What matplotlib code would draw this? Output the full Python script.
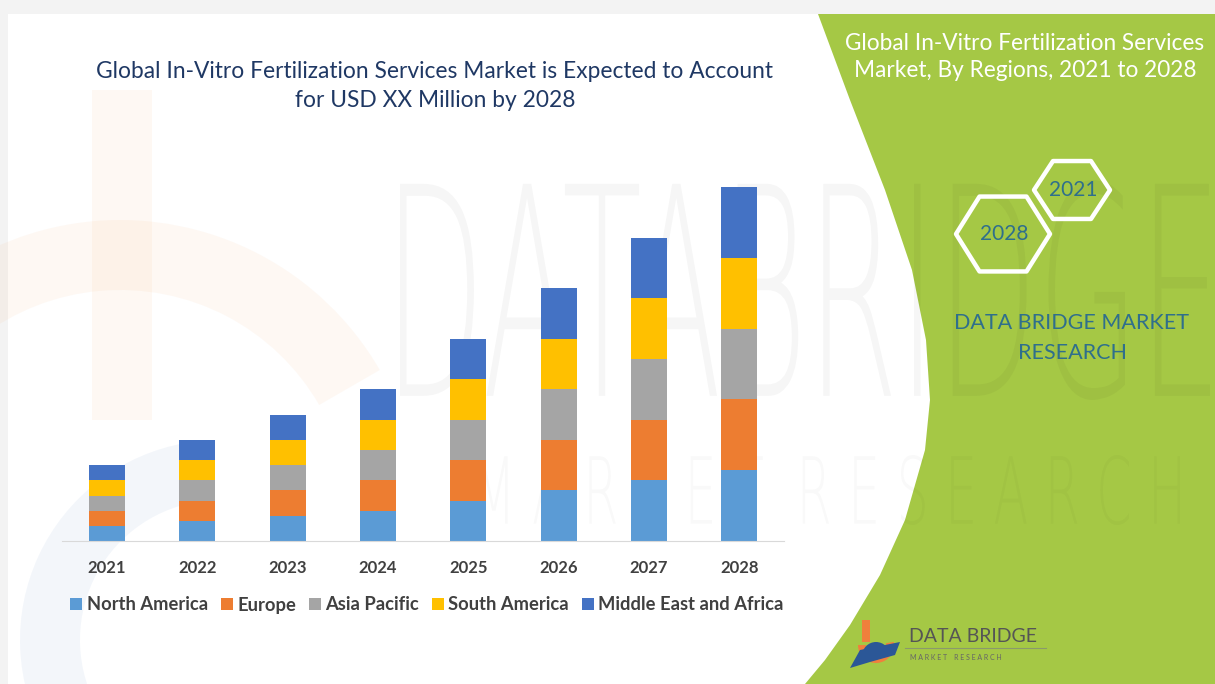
import numpy as np
import matplotlib
matplotlib.use("Agg")
import matplotlib.pyplot as plt
from matplotlib.patches import Polygon, PathPatch, Rectangle, Wedge
from matplotlib.textpath import TextPath
from matplotlib.font_manager import FontProperties
from matplotlib.transforms import Affine2D

# ---------------- data ----------------
years = ["2021", "2022", "2023", "2024", "2025", "2026", "2027", "2028"]
north_america = [1.5, 2.0, 2.5, 3.0, 4.0, 5.0, 6.0, 7.0]
europe = [1.5, 2.0, 2.5, 3.0, 4.0, 5.0, 6.0, 7.0]
asia_pacific = [1.5, 2.0, 2.5, 3.0, 4.0, 5.0, 6.0, 7.0]
south_america = [1.5, 2.0, 2.5, 3.0, 4.0, 5.0, 6.0, 7.0]
middle_east_africa = [1.5, 2.0, 2.5, 3.0, 4.0, 5.0, 6.0, 7.0]
series_names = ["North America", "Europe", "Asia Pacific", "South America",
                "Middle East and Africa"]
series_colors = ["#5B9BD5", "#ED7D31", "#A5A5A5", "#FFC000", "#4472C4"]

title = "Global In-Vitro Fertilization Services Market is Expected to Account\nfor USD XX Million by 2028"
side_title = "Global In-Vitro Fertilization Services\nMarket, By Regions, 2021 to 2028"
brand = "DATA BRIDGE MARKET\nRESEARCH"

W, H = 1215, 684
fig = plt.figure(figsize=(W / 100, H / 100), dpi=100)
fig.patch.set_facecolor("#F3F3F3")

# ---------------- background / decoration layer ----------------
bg = fig.add_axes([0, 0, 1, 1], zorder=0)
bg.set_xlim(0, W)
bg.set_ylim(H, 0)
bg.axis("off")

bg.add_patch(Rectangle((8, 14), W - 8, H - 14, facecolor="white", edgecolor="none"))

# faint watermark logo on the left
bg.add_patch(Rectangle((92, 90), 60, 330, facecolor="#F4A460", alpha=0.07, edgecolor="none"))
bg.add_patch(Wedge((120, 520), 300, 200, 330, width=70, facecolor="#F4A460", alpha=0.07,
                   edgecolor="none"))
bg.add_patch(Wedge((220, 640), 200, 150, 260, width=60, facecolor="#5B87C5", alpha=0.07,
                   edgecolor="none"))

# green panel
green_edge = [(818, 14), (850, 100), (885, 190), (912, 270), (926, 340), (930, 400),
              (925, 450), (905, 520), (880, 575), (850, 625), (825, 660), (805, 684)]
bg.add_patch(Polygon(green_edge + [(W, H), (W, 14)], closed=True,
                     facecolor="#A5C845", edgecolor="none"))


def stretched_text(ax, s, x0, y0, x1, y1, **kw):
    tp = TextPath((0, 0), s, size=100, prop=FontProperties(family="DejaVu Sans",
                                                           weight="light"))
    ext = tp.get_extents()
    sx = (x1 - x0) / ext.width
    sy = (y1 - y0) / ext.height
    tr = (Affine2D().translate(-ext.x0, -ext.y0).scale(sx, -sy).translate(x0, y1)
          + ax.transData)
    ax.add_patch(PathPatch(tp, transform=tr, **kw))


stretched_text(bg, "DATABRIDGE", 400, 180, 1210, 400, facecolor="black", alpha=0.035,
               edgecolor="none")
stretched_text(bg, "M A R K E T  R E S E A R C H", 480, 455, 1180, 525, facecolor="black",
               alpha=0.025, edgecolor="none")

# hexagons
def hexagon(cx, cy, r, sy=1.0):
    ang = np.deg2rad(np.arange(0, 360, 60))
    return [(cx + r * np.cos(a), cy + r * sy * np.sin(a)) for a in ang]


bg.add_patch(Polygon(hexagon(1072, 190, 38, 0.88), closed=True, facecolor="none",
                     edgecolor="white", lw=3.2, joinstyle="round"))
bg.add_patch(Polygon(hexagon(1003, 234, 47, 0.92), closed=True, facecolor="none",
                     edgecolor="white", lw=3.2, joinstyle="round"))
bg.text(1073, 190, "2021", ha="center", va="center", color="#2F6F8C", fontsize=15,
        family="Lato")
bg.text(1004, 234, "2028", ha="center", va="center", color="#2F6F8C", fontsize=15,
        family="Lato")
bg.text(1072, 338, brand, ha="center", va="center", color="#2F6F8C", fontsize=15.5,
        family="Lato", linespacing=1.6)
bg.text(1025, 57, side_title, ha="center", va="center", color="white", fontsize=16.3,
        family="Lato", linespacing=1.4)

# bottom logo
bg.add_patch(Rectangle((862, 620), 8, 22, facecolor="#F07F3C", edgecolor="none"))
bg.add_patch(Wedge((876, 645), 18, -10, 180, width=8, facecolor="#F07F3C", edgecolor="none"))
bg.add_patch(Polygon([(850, 668), (860, 650), (900, 642), (895, 655), (870, 662)],
                     closed=True, facecolor="#2B5797", edgecolor="none"))
bg.add_patch(Wedge((876, 656), 14, 180, 360, width=7, facecolor="#2B5797", edgecolor="none"))
bg.text(909, 637, "DATA BRIDGE", ha="left", va="center", color="#555555", fontsize=14,
        family="Lato")
bg.plot([905, 1046], [648, 648], color="#8A9A6A", lw=0.8)
bg.text(910, 658, "M A R K E T    R E S E A R C H", ha="left", va="center",
        color="#666666", fontsize=5, family="Lato")

# title
bg.text(435, 86, title, ha="center", va="center", color="#1F3864", fontsize=16.4,
        family="Lato", linespacing=1.42)

# ---------------- chart ----------------
left_px, right_px, base_px, top_px = 61.9, 784.4, 541, 177
ax = fig.add_axes([left_px / W, (H - base_px) / H, (right_px - left_px) / W,
                   (base_px - top_px) / H], zorder=2)
ax.patch.set_alpha(0)
x = np.arange(len(years))
series = [north_america, europe, asia_pacific, south_america, middle_east_africa]
bottom = np.zeros(len(years))
for name, vals, col in zip(series_names, series, series_colors):
    ax.bar(x, vals, 0.4, bottom=bottom, color=col, label=name, edgecolor="none")
    bottom += np.array(vals)
ax.set_xlim(-0.5, len(years) - 0.5)
ax.set_ylim(0, 36)
for s in ["top", "right", "left"]:
    ax.spines[s].set_visible(False)
ax.spines["bottom"].set_color("#D9D9D9")
ax.set_yticks([])
ax.set_xticks(x)
ax.set_xticklabels(years, fontsize=12, fontweight="bold", color="#404040", family="Lato")
ax.tick_params(axis="x", length=0, pad=14)

handles, labels = ax.get_legend_handles_labels()
leg = fig.legend(handles, labels, loc="center", bbox_to_anchor=(427 / W, 1 - 605 / H),
                 ncol=5, frameon=False, handlelength=0.65, handleheight=0.65,
                 handletextpad=0.25, columnspacing=0.7,
                 prop=FontProperties(family="Lato", weight="bold", size=13.2))
for t in leg.get_texts():
    t.set_color("#404040")

fig.savefig("out.png", dpi=100, facecolor=fig.get_facecolor())
